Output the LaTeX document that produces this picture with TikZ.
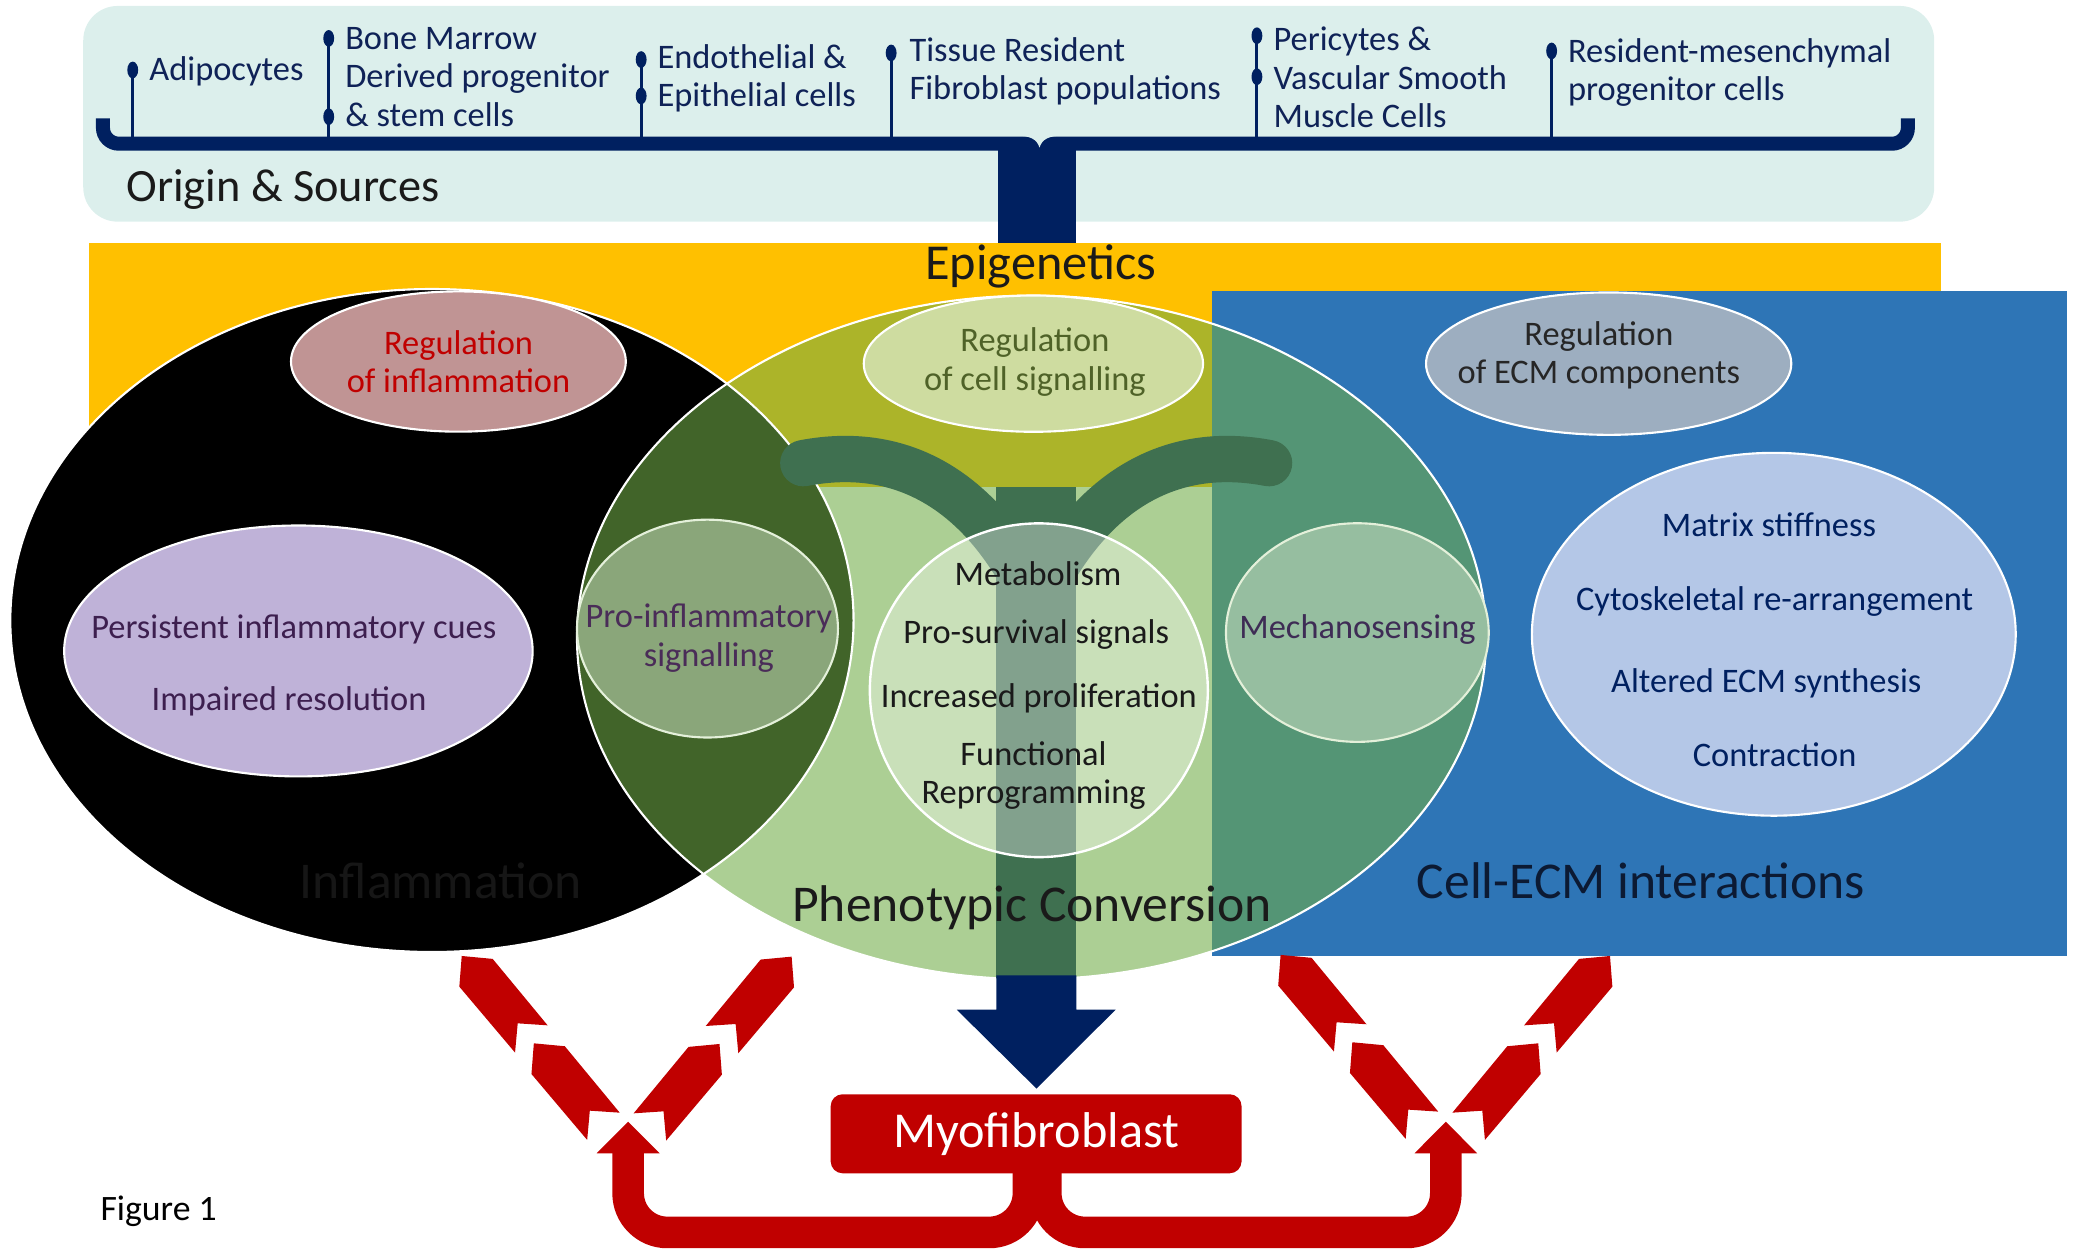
\documentclass[tikz,border=0pt]{standalone}
\usepackage{fontspec}
\setmainfont{Carlito}
\usetikzlibrary{shapes.geometric}
\definecolor{topbg}{HTML}{DCEFEC}
\definecolor{navy}{HTML}{002060}
\definecolor{orangeband}{HTML}{FFC000}
\definecolor{ecmblue}{HTML}{2E75B6}
\definecolor{pgreen}{HTML}{70AD47}
\definecolor{ygreen}{HTML}{3F7050}
\definecolor{myored}{HTML}{C00000}
\definecolor{pinkell}{HTML}{C09494}
\definecolor{lavell}{HTML}{BFB2D8}
\definecolor{cellell}{HTML}{CEDCA0}
\definecolor{proell}{HTML}{8AA67A}
\definecolor{mechell}{HTML}{96BEA0}
\definecolor{regecmell}{HTML}{9DAEC0}
\definecolor{ecmell}{HTML}{B4C7E7}
\definecolor{paleedge}{HTML}{E4F0DA}
\definecolor{toptext}{HTML}{0F2257}
\definecolor{darktext}{HTML}{1A1A1A}
\definecolor{purtext}{HTML}{3D1F4F}
\definecolor{protext}{HTML}{4A2C58}
\definecolor{celltext}{HTML}{4F6228}
\definecolor{mechtext}{HTML}{3E2C55}
\definecolor{regecmtext}{HTML}{262626}
\definecolor{infltext}{HTML}{161616}
\definecolor{ecmlabel}{HTML}{0C1A33}
\newcommand\boltseg[3]{%
  \fill[myored] (#1,#2) -- ({#1+(#3)*23.4},{#2+2.2}) -- ({#1+(#3)*64.9},{#2+52.4}) -- ({#1+(#3)*42.3},{#2+50.9}) -- ({#1+(#3)*40.3},{#2+73}) -- ({#1+(#3)*(-1.8)},{#2+23.2}) -- cycle;}
\begin{document}
\begin{tikzpicture}[x=0.5pt,y=-0.5pt,
  tl/.style={font=\fontsize{13pt}{14.5pt}\selectfont, text=toptext, anchor=west, align=left, inner sep=0pt},
  et/.style={font=\fontsize{13pt}{14.5pt}\selectfont, align=center, inner sep=0pt},
  one/.style={text height=9pt, text depth=2.7pt},
  bigl/.style={font=\fontsize{19.5pt}{22pt}\selectfont, inner sep=0pt, text height=14pt, text depth=4pt},
  ell/.style={draw=white, line width=0.8pt},
  tickline/.style={draw=navy, line width=1.1pt}]
\useasboundingbox (0,0) rectangle (1568,945.3);
% ---------- origin & sources ----------
\fill[topbg, rounded corners=13pt] (62.9,4.5) rectangle (1461.6,167.5);
\draw[navy, line width=5.3pt, rounded corners=6pt] (77.8,89.4) -- (77.8,108.6) -- (1441.7,108.6) -- (1441.7,89.4);
\fill[navy] (754.4,108) rectangle (813.4,184.5);
\fill[topbg] (768,102.5) .. controls (778,102.5) and (783.5,105) .. (785.5,111.5) .. controls (787.5,105) and (793,102.5) .. (803,102.5) -- cycle;
\foreach \x/\ya in {100.3/52.9, 248.4/29, 484.5/45, 673.4/40, 949.8/27, 1172.5/38.5}
  \draw[tickline] (\x,\ya) -- (\x,104);
\foreach \x/\y in {100.3/52.9, 248.4/29, 248.4/88.2, 484.5/45, 484.5/72.5, 673.4/40, 949.8/27, 949.8/58, 1172.5/38.5}
  \fill[navy] (\x,\y) ellipse [x radius=4.1, y radius=6.3];
\node[tl] (adipo) at (112.5,54) {Adipocytes};
\node[tl] (bonem) at (260.5,58) {Bone Marrow\\Derived progenitor\\\& stem cells};
\node[tl] (endo) at (496.5,59) {Endothelial \&\\Epithelial cells};
\node[tl] (tissue) at (686.9,54) {Tissue Resident\\Fibroblast populations};
\node[tl] (peri) at (962,58.6) {Pericytes \&\\Vascular Smooth\\Muscle Cells};
\node[tl] (resmes) at (1184.5,55) {Resident-mesenchymal\\progenitor cells};
\node[anchor=west, inner sep=0pt, font=\fontsize{17.5pt}{20pt}\selectfont, text=darktext] (origin) at (95.2,143.6) {Origin \& Sources};
% ---------- bands and circles ----------
\fill[orangeband] (67.2,183.5) rectangle (1466.7,367.7);
\node[bigl, font=\fontsize{19pt}{22pt}\selectfont, text=darktext] (epi) at (786.5,201) {Epigenetics};
\fill[ecmblue] (916,219.9) rectangle (1561.6,722.6);
\fill[black] (326.4,468.9) ellipse [x radius=318.6, y radius=250.5];
\fill[pgreen, fill opacity=0.58] (779.5,481.7) ellipse [x radius=343.5, y radius=258.3];
\draw[white, line width=0.8pt] (326.4,468.9) ellipse [x radius=318.6, y radius=250.5];
\draw[white, line width=0.8pt] (779.5,481.7) ellipse [x radius=343.5, y radius=258.3];
% tuning fork
\begin{scope}
\clip (779.5,481.7) ellipse [x radius=343.5, y radius=258.3];
\fill[ygreen] (753,367.7) rectangle (813.4,745);
\end{scope}
\draw[ygreen, line width=17.5pt, line cap=round] (607,350) .. controls (685,335) and (740,375) .. (775,440);
\draw[ygreen, line width=17.5pt, line cap=round] (959,350) .. controls (881,335) and (826,375) .. (791,440);
% ---------- inner ellipses ----------
\filldraw[fill=pinkell, ell] (346.4,273.2) ellipse [x radius=126.5, y radius=53];
\node[et, text=myored] (reginf) at (346.5,273.1) {Regulation\\of inflammation};
\filldraw[fill=lavell, ell] (225.5,491.9) ellipse [x radius=177, y radius=94.8];
\node[et, one, text=purtext] (persist) at (222,476.3) {Persistent inflammatory cues};
\node[et, one, text=purtext] (impair) at (218.4,530.4) {Impaired resolution};
\filldraw[fill=cellell, ell] (780.9,274.8) ellipse [x radius=128.2, y radius=51.5];
\node[et, text=celltext] (regcell) at (782,273.6) {Regulation\\of cell signalling};
\filldraw[fill=proell, draw=paleedge, line width=0.8pt] (534.6,475) ellipse [x radius=98.6, y radius=82.3];
\node[et, text=protext] (proinf) at (535.7,482.3) {Pro-inflammatory\\signalling};
\filldraw[fill=white, fill opacity=0.35, draw=white, line width=0.9pt] (785,521.6) ellipse [x radius=127.7, y radius=126.1];
\node[et, one, text=darktext] (metab) at (784.4,436) {Metabolism};
\node[et, one, text=darktext] (surv) at (783,479.7) {Pro-survival signals};
\node[et, one, text=darktext] (prolif) at (785,528.7) {Increased proliferation};
\node[et, text=darktext] (funct) at (781,586) {Functional\\Reprogramming};
\filldraw[fill=mechell, draw=paleedge, line width=0.8pt] (1025.7,478) ellipse [x radius=99.3, y radius=82.6];
\node[et, one, text=mechtext] (mech) at (1025.8,476.3) {Mechanosensing};
\filldraw[fill=regecmell, ell] (1215.6,274.8) ellipse [x radius=138, y radius=53.8];
\node[et, text=regecmtext] (regecm) at (1208.2,268.4) {Regulation\\of ECM components};
\filldraw[fill=ecmell, ell] (1340.4,479.3) ellipse [x radius=182.8, y radius=137.1];
\node[et, one, text=navy] (stiff) at (1336.7,398.8) {Matrix stiffness};
\node[et, one, text=navy] (cyto) at (1341,455.1) {Cytoskeletal re-arrangement};
\node[et, one, text=navy] (synth) at (1334.7,516.9) {Altered ECM synthesis};
\node[et, one, text=navy] (contr) at (1341,573.2) {Contraction};
% ---------- section labels ----------
\node[bigl, text=infltext] (inflam) at (333,668.6) {Inflammation};
\node[bigl, text=darktext] (pheno) at (780,686.6) {Phenotypic Conversion};
\node[bigl, text=ecmlabel] (cellecm) at (1240,668.7) {Cell-ECM interactions};
% ---------- myofibroblast ----------
\node[fill=myored, rounded corners=4.5pt, minimum width=155.25pt, minimum height=29.85pt, inner sep=0pt, text=white, font=\fontsize{19pt}{22pt}\selectfont] (myo) at (782.95,856.75) {Myofibroblast};
\fill[navy] (753,737) -- (813.4,737) -- (813.4,763) -- (843,763) -- (783.2,822.6) -- (723,763) -- (753,763) -- cycle;
\draw[myored, line width=11.95pt, rounded corners=14.8pt] (777.15,880) -- (777.15,931.3) -- (474.65,931.3) -- (474.65,870.5);
\fill[myored] (450.9,871.5) -- (498.4,871.5) -- (474.65,847.6) -- cycle;
\draw[myored, line width=11.95pt, rounded corners=14.8pt] (790.25,880) -- (790.25,931.3) -- (1092.55,931.3) -- (1092.55,870.5);
\fill[myored] (1068.9,871.5) -- (1116.2,871.5) -- (1092.55,847.6) -- cycle;
\boltseg{348.9}{722.4}{1}
\boltseg{403.4}{788.4}{1}
\boltseg{598.2}{722.9}{-1}
\boltseg{543.7}{788.9}{-1}
\boltseg{967.7}{721.6}{1}
\boltseg{1021.9}{787.6}{1}
\boltseg{1216.6}{722.4}{-1}
\boltseg{1162.4}{788.4}{-1}
\node[anchor=west, inner sep=0pt, font=\fontsize{13.5pt}{16pt}\selectfont] (fig) at (75.6,915.6) {Figure 1};
\end{tikzpicture}
\end{document}
